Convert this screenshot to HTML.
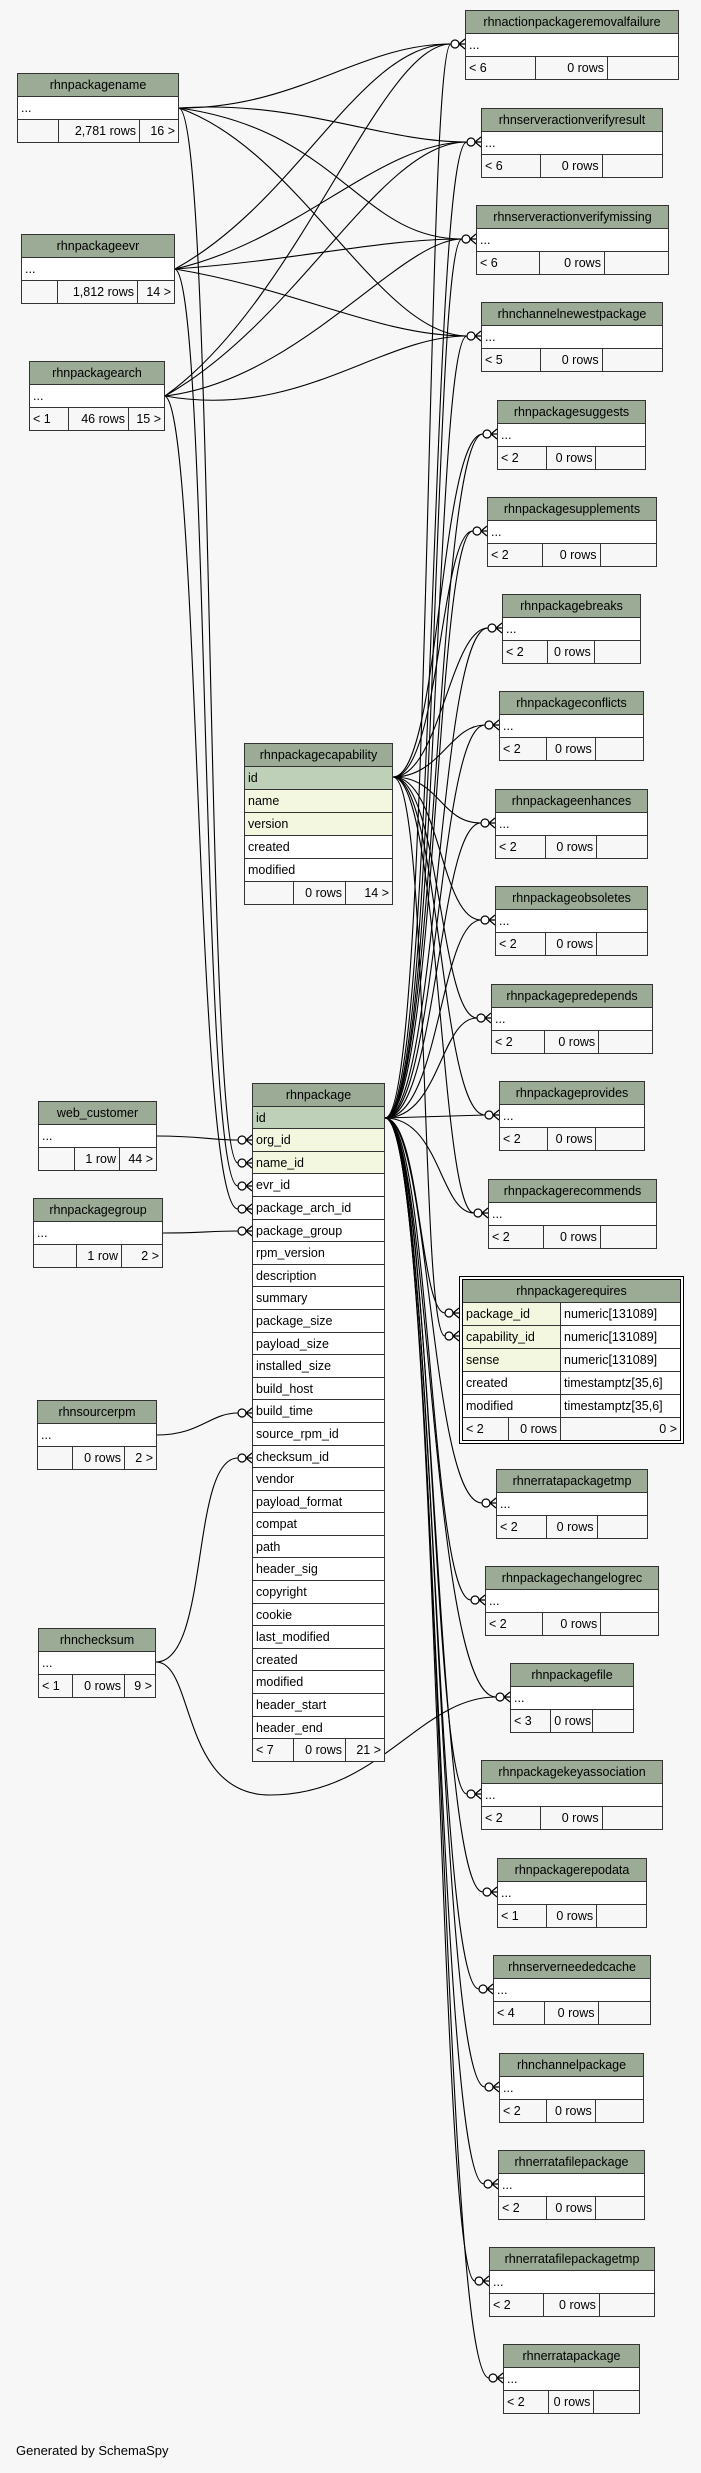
<!DOCTYPE html>
<html><head><meta charset="utf-8">
<style>
html,body{margin:0;padding:0;background:#f7f7f7;}
body{width:701px;height:2473px;position:relative;overflow:hidden;font-family:"Liberation Sans",Arial,sans-serif;font-size:12.5px;color:#000;}
.t{position:absolute;border:1px solid #333;background:#fff;box-sizing:border-box;}
.h{background:#9bab96;height:23px;line-height:23px;text-align:center;border-bottom:1px solid #333;box-sizing:border-box;white-space:nowrap;overflow:hidden;}
.r{height:23px;line-height:22px;padding-left:3px;border-bottom:1px solid #333;box-sizing:border-box;white-space:nowrap;background:#fff;}
.pk{background:#bed1b8;}
.ix{background:#f4f7e0;}
.f{display:flex;height:22px;line-height:22px;background:#f7f7f7;}
.f span{box-sizing:border-box;border-right:1px solid #333;padding:0 3px;white-space:nowrap;overflow:hidden;}
.f span:last-child{border-right:none;}
.f .a{flex:0 0 33%}.f .b{flex:0 0 34%;text-align:right}.f .c{flex:1;text-align:right}
.big .r,.big .h{height:22.6px;line-height:22px;}
svg{position:absolute;left:0;top:0;}
</style></head><body>
<svg width="701" height="2473" viewBox="0 0 701 2473">
<defs>
<g id="m" fill="none" stroke="#000" stroke-width="1.2"><circle cx="-10" cy="0" r="4" fill="#fff"/><path d="M-6,0 L0,-5 M-6,0 L0,0 M-6,0 L0,5"/></g>
</defs>
<g fill="none" stroke="#000" stroke-width="1.1">
<path d="M179,108 C300,108 360,44 451,44"/>
<path d="M179,108 C300,100 380,142 467,142"/>
<path d="M179,108 C340,130 360,239 462,239"/>
<path d="M179,108 C300,150 380,336 467,336"/>
<path d="M179,108 C215,115 205,1163 238,1163"/>
<path d="M175,269 C300,200 360,44 451,44"/>
<path d="M175,269 C300,240 380,142 467,142"/>
<path d="M175,269 C300,260 380,239 462,239"/>
<path d="M175,269 C300,290 380,336 467,336"/>
<path d="M175,269 C210,280 200,1186 238,1186"/>
<path d="M165,396 C300,300 380,44 451,44"/>
<path d="M165,396 C300,320 380,142 467,142"/>
<path d="M165,396 C300,380 400,239 462,239"/>
<path d="M165,396 C300,420 380,336 467,336"/>
<path d="M165,396 C200,410 195,1209 238,1209"/>
<path d="M385,1118 C432,1118 425,44 451,44"/>
<path d="M385,1118 C436,1118 430,142 467,142"/>
<path d="M385,1118 C438,1118 432,239 462,239"/>
<path d="M385,1118 C438,1118 434,336 467,336"/>
<path d="M385,1118 C436,1118 436,434 483,434"/>
<path d="M385,1118 C436,1118 436,531 473,531"/>
<path d="M385,1118 C438,1118 438,628 488,628"/>
<path d="M385,1118 C438,1118 438,725 485,725"/>
<path d="M385,1118 C438,1118 438,823 481,823"/>
<path d="M385,1118 C440,1118 440,920 481,920"/>
<path d="M385,1118 C440,1118 440,1018 477,1018"/>
<path d="M385,1118 L485,1115"/>
<path d="M385,1118 C440,1118 440,1213 474,1213"/>
<path d="M385,1118 C420,1118 420,1313 445,1313"/>
<path d="M385,1118 C430,1118 430,1503 482,1503"/>
<path d="M385,1118 C430,1118 430,1600 471,1600"/>
<path d="M385,1118 C430,1118 430,1697 496,1697"/>
<path d="M385,1118 C432,1118 432,1794 467,1794"/>
<path d="M385,1118 C434,1118 434,1892 483,1892"/>
<path d="M385,1118 C434,1118 434,1989 479,1989"/>
<path d="M385,1118 C436,1118 436,2087 485,2087"/>
<path d="M385,1118 C436,1118 436,2184 484,2184"/>
<path d="M385,1118 C438,1118 438,2281 475,2281"/>
<path d="M385,1118 C440,1118 440,2378 489,2378"/>
<path d="M393,777 C440,777 440,434 483,434"/>
<path d="M393,777 C440,777 440,531 473,531"/>
<path d="M393,777 C440,777 450,628 488,628"/>
<path d="M393,777 C440,777 450,725 485,725"/>
<path d="M393,777 C440,777 440,823 481,823"/>
<path d="M393,777 C440,777 440,920 481,920"/>
<path d="M393,777 C440,777 440,1018 477,1018"/>
<path d="M393,777 C440,777 440,1115 485,1115"/>
<path d="M393,777 C440,777 440,1213 474,1213"/>
<path d="M393,777 C430,777 420,1336 445,1336"/>
<path d="M157,1136 C200,1136 210,1140 238,1140"/>
<path d="M163,1233 C200,1233 210,1231 238,1231"/>
<path d="M157,1435 C200,1435 210,1413 238,1413"/>
<path d="M156,1662 C210,1662 190,1458 238,1458"/>
<path d="M156,1662 C195,1662 180,1795 270,1795 C380,1795 420,1697 496,1697"/>
</g>
<g>
<use href="#m" x="465" y="44"/><use href="#m" x="481" y="142"/><use href="#m" x="476" y="239"/><use href="#m" x="481" y="336"/>
<use href="#m" x="497" y="434"/><use href="#m" x="487" y="531"/><use href="#m" x="502" y="628"/><use href="#m" x="499" y="725"/>
<use href="#m" x="495" y="823"/><use href="#m" x="495" y="920"/><use href="#m" x="491" y="1018"/><use href="#m" x="499" y="1115"/>
<use href="#m" x="488" y="1213"/><use href="#m" x="459" y="1313"/><use href="#m" x="459" y="1336"/>
<use href="#m" x="496" y="1503"/><use href="#m" x="485" y="1600"/><use href="#m" x="510" y="1697"/><use href="#m" x="481" y="1794"/>
<use href="#m" x="497" y="1892"/><use href="#m" x="493" y="1989"/><use href="#m" x="499" y="2087"/><use href="#m" x="498" y="2184"/>
<use href="#m" x="489" y="2281"/><use href="#m" x="503" y="2378"/>
<use href="#m" x="252" y="1140"/><use href="#m" x="252" y="1163"/><use href="#m" x="252" y="1186"/><use href="#m" x="252" y="1209"/>
<use href="#m" x="252" y="1231"/><use href="#m" x="252" y="1413"/><use href="#m" x="252" y="1458"/>
</g>
</svg>

<div class="t" style="left:17px;top:73px;width:162px"><div class="h">rhnpackagename</div><div class="r">...</div><div class="f"><span style="flex:0 0 41px"></span><span style="flex:0 0 81px;text-align:right">2,781 rows</span><span class="c">16 &gt;</span></div></div>
<div class="t" style="left:21px;top:234px;width:154px"><div class="h">rhnpackageevr</div><div class="r">...</div><div class="f"><span style="flex:0 0 36px"></span><span style="flex:0 0 80px;text-align:right">1,812 rows</span><span class="c">14 &gt;</span></div></div>
<div class="t" style="left:29px;top:361px;width:136px"><div class="h">rhnpackagearch</div><div class="r">...</div><div class="f"><span style="flex:0 0 39px">&lt; 1</span><span style="flex:0 0 60px;text-align:right">46 rows</span><span class="c">15 &gt;</span></div></div>
<div class="t" style="left:38px;top:1101px;width:119px"><div class="h">web_customer</div><div class="r">...</div><div class="f"><span style="flex:0 0 36px"></span><span style="flex:0 0 45px;text-align:right">1 row</span><span class="c">44 &gt;</span></div></div>
<div class="t" style="left:33px;top:1198px;width:130px"><div class="h">rhnpackagegroup</div><div class="r">...</div><div class="f"><span style="flex:0 0 43px"></span><span style="flex:0 0 45px;text-align:right">1 row</span><span class="c">2 &gt;</span></div></div>
<div class="t" style="left:37px;top:1400px;width:120px"><div class="h">rhnsourcerpm</div><div class="r">...</div><div class="f"><span style="flex:0 0 35px"></span><span style="flex:0 0 52px;text-align:right">0 rows</span><span class="c">2 &gt;</span></div></div>
<div class="t" style="left:38px;top:1628px;width:118px"><div class="h">rhnchecksum</div><div class="r">...</div><div class="f"><span style="flex:0 0 34px">&lt; 1</span><span style="flex:0 0 52px;text-align:right">0 rows</span><span class="c">9 &gt;</span></div></div>

<div class="t" style="left:244px;top:743px;width:149px"><div class="h">rhnpackagecapability</div><div class="r pk">id</div><div class="r ix">name</div><div class="r ix">version</div><div class="r">created</div><div class="r">modified</div><div class="f"><span style="flex:0 0 49px"></span><span style="flex:0 0 52px;text-align:right">0 rows</span><span class="c">14 &gt;</span></div></div>

<div class="t big" style="left:252px;top:1083px;width:133px"><div class="h">rhnpackage</div><div class="r pk">id</div><div class="r ix">org_id</div><div class="r ix">name_id</div><div class="r">evr_id</div><div class="r">package_arch_id</div><div class="r">package_group</div><div class="r">rpm_version</div><div class="r">description</div><div class="r">summary</div><div class="r">package_size</div><div class="r">payload_size</div><div class="r">installed_size</div><div class="r">build_host</div><div class="r">build_time</div><div class="r">source_rpm_id</div><div class="r">checksum_id</div><div class="r">vendor</div><div class="r">payload_format</div><div class="r">compat</div><div class="r">path</div><div class="r">header_sig</div><div class="r">copyright</div><div class="r">cookie</div><div class="r">last_modified</div><div class="r">created</div><div class="r">modified</div><div class="r">header_start</div><div class="r">header_end</div><div class="f"><span style="flex:0 0 41px">&lt; 7</span><span style="flex:0 0 52px;text-align:right">0 rows</span><span class="c">21 &gt;</span></div></div>

<div class="t" style="left:459px;top:1276px;width:225px;border:4px double #000"><div class="h">rhnpackagerequires</div>
<div style="display:flex"><div class="r ix" style="flex:0 0 98px;border-right:1px solid #333">package_id</div><div class="r" style="flex:1">numeric[131089]</div></div>
<div style="display:flex"><div class="r ix" style="flex:0 0 98px;border-right:1px solid #333">capability_id</div><div class="r" style="flex:1">numeric[131089]</div></div>
<div style="display:flex"><div class="r ix" style="flex:0 0 98px;border-right:1px solid #333">sense</div><div class="r" style="flex:1">numeric[131089]</div></div>
<div style="display:flex"><div class="r" style="flex:0 0 98px;border-right:1px solid #333">created</div><div class="r" style="flex:1">timestamptz[35,6]</div></div>
<div style="display:flex"><div class="r" style="flex:0 0 98px;border-right:1px solid #333">modified</div><div class="r" style="flex:1">timestamptz[35,6]</div></div>
<div class="f"><span style="flex:0 0 46px">&lt; 2</span><span style="flex:0 0 52px;text-align:right">0 rows</span><span class="c">0 &gt;</span></div></div>

<div class="t" style="left:465px;top:10px;width:214px"><div class="h">rhnactionpackageremovalfailure</div><div class="r">...</div><div class="f"><span class="a">&lt; 6</span><span class="b">0 rows</span><span class="c"></span></div></div>
<div class="t" style="left:481px;top:108px;width:182px"><div class="h">rhnserveractionverifyresult</div><div class="r">...</div><div class="f"><span class="a">&lt; 6</span><span class="b">0 rows</span><span class="c"></span></div></div>
<div class="t" style="left:476px;top:205px;width:193px"><div class="h">rhnserveractionverifymissing</div><div class="r">...</div><div class="f"><span class="a">&lt; 6</span><span class="b">0 rows</span><span class="c"></span></div></div>
<div class="t" style="left:481px;top:302px;width:182px"><div class="h">rhnchannelnewestpackage</div><div class="r">...</div><div class="f"><span class="a">&lt; 5</span><span class="b">0 rows</span><span class="c"></span></div></div>
<div class="t" style="left:497px;top:400px;width:149px"><div class="h">rhnpackagesuggests</div><div class="r">...</div><div class="f"><span class="a">&lt; 2</span><span class="b">0 rows</span><span class="c"></span></div></div>
<div class="t" style="left:487px;top:497px;width:170px"><div class="h">rhnpackagesupplements</div><div class="r">...</div><div class="f"><span class="a">&lt; 2</span><span class="b">0 rows</span><span class="c"></span></div></div>
<div class="t" style="left:502px;top:594px;width:139px"><div class="h">rhnpackagebreaks</div><div class="r">...</div><div class="f"><span class="a">&lt; 2</span><span class="b">0 rows</span><span class="c"></span></div></div>
<div class="t" style="left:499px;top:691px;width:145px"><div class="h">rhnpackageconflicts</div><div class="r">...</div><div class="f"><span class="a">&lt; 2</span><span class="b">0 rows</span><span class="c"></span></div></div>
<div class="t" style="left:495px;top:789px;width:153px"><div class="h">rhnpackageenhances</div><div class="r">...</div><div class="f"><span class="a">&lt; 2</span><span class="b">0 rows</span><span class="c"></span></div></div>
<div class="t" style="left:495px;top:886px;width:153px"><div class="h">rhnpackageobsoletes</div><div class="r">...</div><div class="f"><span class="a">&lt; 2</span><span class="b">0 rows</span><span class="c"></span></div></div>
<div class="t" style="left:491px;top:984px;width:162px"><div class="h">rhnpackagepredepends</div><div class="r">...</div><div class="f"><span class="a">&lt; 2</span><span class="b">0 rows</span><span class="c"></span></div></div>
<div class="t" style="left:499px;top:1081px;width:146px"><div class="h">rhnpackageprovides</div><div class="r">...</div><div class="f"><span class="a">&lt; 2</span><span class="b">0 rows</span><span class="c"></span></div></div>
<div class="t" style="left:488px;top:1179px;width:169px"><div class="h">rhnpackagerecommends</div><div class="r">...</div><div class="f"><span class="a">&lt; 2</span><span class="b">0 rows</span><span class="c"></span></div></div>
<div class="t" style="left:496px;top:1469px;width:152px"><div class="h">rhnerratapackagetmp</div><div class="r">...</div><div class="f"><span class="a">&lt; 2</span><span class="b">0 rows</span><span class="c"></span></div></div>
<div class="t" style="left:485px;top:1566px;width:174px"><div class="h">rhnpackagechangelogrec</div><div class="r">...</div><div class="f"><span class="a">&lt; 2</span><span class="b">0 rows</span><span class="c"></span></div></div>
<div class="t" style="left:510px;top:1663px;width:124px"><div class="h">rhnpackagefile</div><div class="r">...</div><div class="f"><span class="a">&lt; 3</span><span class="b">0 rows</span><span class="c"></span></div></div>
<div class="t" style="left:481px;top:1760px;width:182px"><div class="h">rhnpackagekeyassociation</div><div class="r">...</div><div class="f"><span class="a">&lt; 2</span><span class="b">0 rows</span><span class="c"></span></div></div>
<div class="t" style="left:497px;top:1858px;width:150px"><div class="h">rhnpackagerepodata</div><div class="r">...</div><div class="f"><span class="a">&lt; 1</span><span class="b">0 rows</span><span class="c"></span></div></div>
<div class="t" style="left:493px;top:1955px;width:158px"><div class="h">rhnserverneededcache</div><div class="r">...</div><div class="f"><span class="a">&lt; 4</span><span class="b">0 rows</span><span class="c"></span></div></div>
<div class="t" style="left:499px;top:2053px;width:145px"><div class="h">rhnchannelpackage</div><div class="r">...</div><div class="f"><span class="a">&lt; 2</span><span class="b">0 rows</span><span class="c"></span></div></div>
<div class="t" style="left:498px;top:2150px;width:147px"><div class="h">rhnerratafilepackage</div><div class="r">...</div><div class="f"><span class="a">&lt; 2</span><span class="b">0 rows</span><span class="c"></span></div></div>
<div class="t" style="left:489px;top:2247px;width:166px"><div class="h">rhnerratafilepackagetmp</div><div class="r">...</div><div class="f"><span class="a">&lt; 2</span><span class="b">0 rows</span><span class="c"></span></div></div>
<div class="t" style="left:503px;top:2344px;width:137px"><div class="h">rhnerratapackage</div><div class="r">...</div><div class="f"><span class="a">&lt; 2</span><span class="b">0 rows</span><span class="c"></span></div></div>

<div style="position:absolute;left:16px;top:2443px;font-size:13px;">Generated by SchemaSpy</div>
</body></html>
